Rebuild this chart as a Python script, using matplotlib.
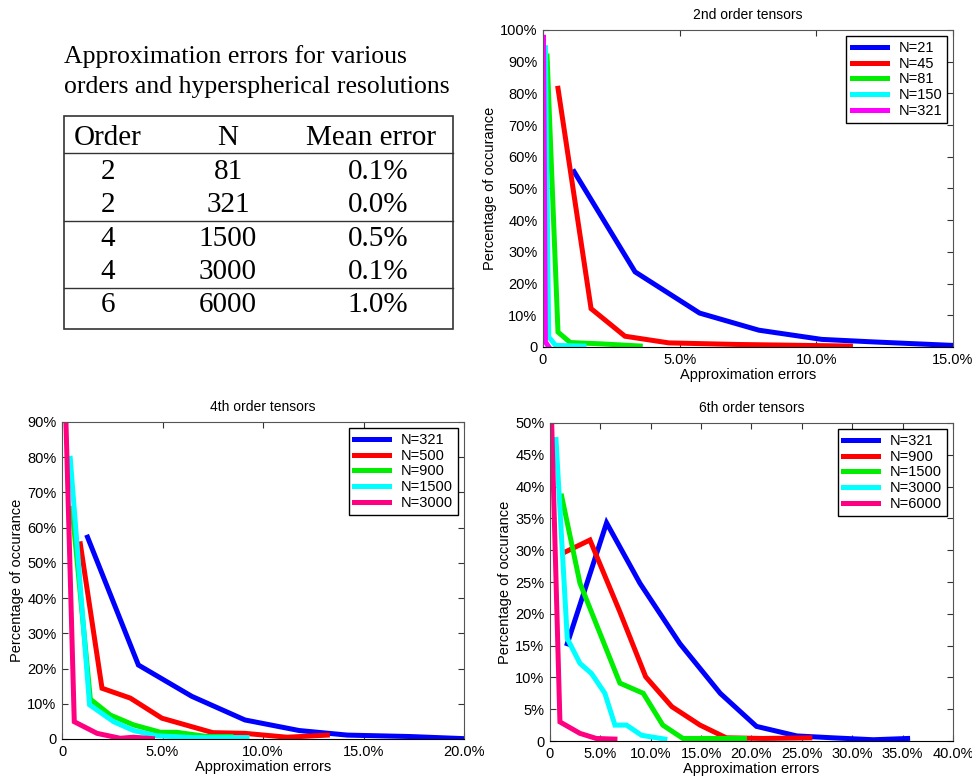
import matplotlib.pyplot as plt
from matplotlib.ticker import FuncFormatter

plt.rcParams['font.family'] = ['Liberation Sans', 'DejaVu Sans']

# tabela
title_lines = ['Approximation errors for various', 'orders and hyperspherical resolutions']
tab_header = ['Order', 'N', 'Mean error']
tab_order = ['2', '2', '4', '4', '6']
tab_N = ['81', '321', '1500', '3000', '6000']
tab_err = ['0.1%', '0.0%', '0.5%', '0.1%', '1.0%']

# 2a ordem
x2_21 = [1.14, 3.37, 5.73, 7.9, 10.2, 12.1, 15.0]
y2_21 = [55.3, 23.7, 10.7, 5.3, 2.4, 1.6, 0.5]
x2_45 = [0.55, 1.76, 3.0, 4.6, 7.1, 11.25]
y2_45 = [81.6, 12.1, 3.4, 1.3, 0.8, 0.3]
x2_81 = [0.15, 0.55, 1.0, 2.1, 3.56]
y2_81 = [91.8, 4.7, 1.4, 1.0, 0.3]
x2_150 = [0.09, 0.21, 0.46, 1.5]
y2_150 = [94.4, 3.2, 0.5, 0.3]
x2_321 = [0.02, 0.09, 0.2]
y2_321 = [97.7, 1.6, 0.2]

# 4a ordem
x4_321 = [1.27, 3.8, 6.46, 9.1, 11.8, 14.2, 17.3, 20.0]
y4_321 = [57.3, 21.0, 12.1, 5.4, 2.4, 1.1, 0.7, 0.1]
x4_500 = [0.91, 1.99, 3.4, 4.97, 7.5, 9.1, 11.2, 13.2]
y4_500 = [55.4, 14.4, 11.6, 5.9, 1.8, 1.6, 0.5, 1.1]
x4_900 = [0.5, 1.41, 2.4, 3.56, 4.9, 5.7, 7.2, 8.4]
y4_900 = [65.5, 11.3, 6.8, 4.0, 1.9, 1.9, 0.7, 0.7]
x4_1500 = [0.41, 1.37, 2.57, 3.56, 4.7, 6.5, 9.2]
y4_1500 = [79.7, 9.7, 4.9, 2.4, 0.9, 0.4, 0.4]
x4_3000 = [0.2, 0.61, 1.74, 2.9, 3.56, 4.5]
y4_3000 = [89.2, 4.9, 1.6, 0.2, 0.5, 0.1]

# 6a ordem
x6_321 = [1.72, 5.62, 8.93, 12.9, 16.9, 20.5, 24.5, 28.1, 32.1, 35.5]
y6_321 = [15.3, 34.3, 24.8, 15.3, 7.5, 2.3, 0.8, 0.5, 0.2, 0.4]
x6_900 = [1.49, 3.97, 6.94, 9.5, 12.1, 14.9, 17.5, 21.2, 25.8]
y6_900 = [29.7, 31.6, 20.3, 10.1, 5.4, 2.5, 0.5, 0.4, 0.5]
x6_1500 = [1.16, 2.98, 6.94, 9.26, 11.2, 13.2, 16.2, 19.3]
y6_1500 = [38.5, 24.8, 9.1, 7.5, 2.5, 0.4, 0.4, 0.4]
x6_3000 = [0.6, 1.72, 2.98, 4.13, 5.45, 6.45, 7.6, 9.09, 11.4]
y6_3000 = [47.4, 16.1, 12.2, 10.6, 7.5, 2.5, 2.5, 0.9, 0.3]
x6_6000 = [0.17, 0.99, 2.98, 4.6, 6.45]
y6_6000 = [50.0, 3.0, 1.2, 0.4, 0.3]

cores = ['#0000ff', '#ff0000', '#00ee00', '#00ffff']
rosa = '#ff0080'


def pct(v, pos):
    return '0' if abs(v) < 1e-9 else '%g%%' % v


def pct1(v, pos):
    return '0' if abs(v) < 1e-9 else '%.1f%%' % v


def painel(ax, series, nomes, ult_cor, xmax, xstep, ymax, ystep, titulo):
    cs = cores + [ult_cor]
    for (x, y), nome, c in zip(series, nomes, cs):
        ax.plot(x, y, color=c, lw=3.6, label=nome, solid_joinstyle='miter')
    ax.set_xlim(0, xmax)
    ax.set_ylim(0, ymax)
    ax.set_xticks([i * xstep for i in range(int(round(xmax / xstep)) + 1)])
    ax.set_yticks([i * ystep for i in range(int(round(ymax / ystep)) + 1)])
    ax.xaxis.set_major_formatter(FuncFormatter(pct1))
    ax.yaxis.set_major_formatter(FuncFormatter(pct))
    ax.tick_params(direction='in', top=True, right=True, labelsize=10.5, length=4,
                   color='#333333', pad=4)
    for s in ax.spines.values():
        s.set_color('#555555')
    ax.spines['bottom'].set_color('black')
    ax.set_xlabel('Approximation errors', fontsize=10.5, labelpad=1)
    ax.set_ylabel('Percentage of occurance', fontsize=10.5, labelpad=2)
    ax.set_title(titulo, fontsize=10, pad=8)
    leg = ax.legend(loc='upper right', fontsize=10.5, handlelength=2.4,
                    fancybox=False, edgecolor='black', framealpha=1,
                    borderaxespad=0.4, labelspacing=0.12, borderpad=0.35,
                    handletextpad=0.8)
    leg.get_frame().set_linewidth(1.0)


fig = plt.figure(figsize=(9.72, 7.81), dpi=100)

ax1 = fig.add_axes([0.5586, 0.5557, 0.4218, 0.4059])
painel(ax1, [(x2_21, y2_21), (x2_45, y2_45), (x2_81, y2_81), (x2_150, y2_150), (x2_321, y2_321)],
       ['N=21', 'N=45', 'N=81', 'N=150', 'N=321'], '#ff00ff', 15, 5, 100, 10, '2nd order tensors')

ax2 = fig.add_axes([0.0638, 0.0538, 0.4136, 0.4059])
painel(ax2, [(x4_321, y4_321), (x4_500, y4_500), (x4_900, y4_900), (x4_1500, y4_1500), (x4_3000, y4_3000)],
       ['N=321', 'N=500', 'N=900', 'N=1500', 'N=3000'], rosa, 20, 5, 90, 10, '4th order tensors')

ax3 = fig.add_axes([0.5658, 0.0512, 0.4146, 0.4072])
painel(ax3, [(x6_321, y6_321), (x6_900, y6_900), (x6_1500, y6_1500), (x6_3000, y6_3000), (x6_6000, y6_6000)],
       ['N=321', 'N=900', 'N=1500', 'N=3000', 'N=6000'], rosa, 40, 5, 50, 5, '6th order tensors')

# tabela em coordenadas de pixel
axt = fig.add_axes([0, 0, 1, 1], zorder=-1)
axt.set_xlim(0, 972)
axt.set_ylim(781, 0)
axt.axis('off')
serif = ['Liberation Serif', 'DejaVu Serif']
for k, linha in enumerate(title_lines):
    axt.text(64, 57 + 30 * k, linha, family=serif, fontsize=18.5, ha='left', va='center')
axt.add_patch(plt.Rectangle((64, 116), 389, 213, fill=False, lw=1.2, ec='#333333'))
for yl in [153, 221, 288]:
    axt.plot([64, 453], [yl, yl], color='#333333', lw=1.0)
cols = [108, 228, 371]
for c, h in zip(cols, tab_header):
    axt.text(c, 138, h, family=serif, fontsize=21, ha='center', va='center')
for k in range(len(tab_order)):
    yk = 172 + 33.3 * k
    axt.text(cols[0], yk, tab_order[k], family=serif, fontsize=21, ha='center', va='center')
    axt.text(cols[1], yk, tab_N[k], family=serif, fontsize=21, ha='center', va='center')
    axt.text(378, yk, tab_err[k], family=serif, fontsize=21, ha='center', va='center')

fig.savefig('out.png', dpi=100)
